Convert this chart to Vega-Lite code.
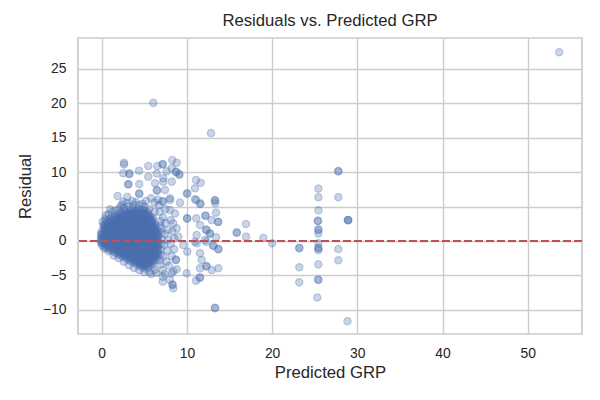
{
"$schema":"https://vega.github.io/schema/vega-lite/v6.json",
"width":504,"height":296,
"autosize":{"type":"none"},
"padding":{"left":78,"top":38,"right":18,"bottom":66},
"background":"white",
"title":{"text":"Residuals vs. Predicted GRP","font":"Liberation Sans","fontSize":16.7,"fontWeight":"normal","color":"#262626","anchor":"middle","frame":"group","offset":8},
"config":{
 "view":{"stroke":"#cccccc","strokeWidth":1.7},
 "axis":{"domain":false,"ticks":false,"tickSize":0,"gridColor":"#cccccc","gridWidth":1.4,"labelFont":"Liberation Sans","labelFontSize":13.9,"labelColor":"#262626","titleFont":"Liberation Sans","titleFontSize":16.7,"titleFontWeight":"normal","titleColor":"#262626","labelPadding":12},
 "axisX":{"titlePadding":5},
 "axisY":{"titlePadding":8}
},
"data":{"values":[
{"pred":0,"resid":-0.6},{"pred":0,"resid":-0.2},{"pred":0,"resid":0.2},{"pred":0,"resid":0.6},{"pred":0,"resid":1},{"pred":0,"resid":1.4},
{"pred":0.3,"resid":-0.8},{"pred":0.3,"resid":-0.4},{"pred":0.3,"resid":0},{"pred":0.3,"resid":0.4},{"pred":0.3,"resid":0.8},{"pred":0.3,"resid":1.2},{"pred":0.3,"resid":1.6},{"pred":0.3,"resid":2},{"pred":0.3,"resid":2.4},
{"pred":0.6,"resid":-1},{"pred":0.6,"resid":-0.6},{"pred":0.6,"resid":-0.2},{"pred":0.6,"resid":0.2},{"pred":0.6,"resid":0.6},{"pred":0.6,"resid":1},{"pred":0.6,"resid":1.4},{"pred":0.6,"resid":1.8},{"pred":0.6,"resid":2.2},{"pred":0.6,"resid":2.6},{"pred":0.6,"resid":3},
{"pred":0.9,"resid":-1.2},{"pred":0.9,"resid":-0.8},{"pred":0.9,"resid":-0.4},{"pred":0.9,"resid":0},{"pred":0.9,"resid":0.4},{"pred":0.9,"resid":0.8},{"pred":0.9,"resid":1.2},{"pred":0.9,"resid":1.6},{"pred":0.9,"resid":2},{"pred":0.9,"resid":2.4},{"pred":0.9,"resid":2.8},{"pred":0.9,"resid":3.2},
{"pred":1.2,"resid":-1.4},{"pred":1.2,"resid":-1},{"pred":1.2,"resid":-0.6},{"pred":1.2,"resid":-0.2},{"pred":1.2,"resid":0.2},{"pred":1.2,"resid":0.6},{"pred":1.2,"resid":1},{"pred":1.2,"resid":1.4},{"pred":1.2,"resid":1.8},{"pred":1.2,"resid":2.2},{"pred":1.2,"resid":2.6},{"pred":1.2,"resid":3},{"pred":1.2,"resid":3.4},
{"pred":1.5,"resid":-1.6},{"pred":1.5,"resid":-1.2},{"pred":1.5,"resid":-0.8},{"pred":1.5,"resid":-0.4},{"pred":1.5,"resid":0},{"pred":1.5,"resid":0.4},{"pred":1.5,"resid":0.8},{"pred":1.5,"resid":1.2},{"pred":1.5,"resid":1.6},{"pred":1.5,"resid":2},{"pred":1.5,"resid":2.4},{"pred":1.5,"resid":2.8},{"pred":1.5,"resid":3.2},{"pred":1.5,"resid":3.6},
{"pred":1.8,"resid":-1.8},{"pred":1.8,"resid":-1.4},{"pred":1.8,"resid":-1},{"pred":1.8,"resid":-0.6},{"pred":1.8,"resid":-0.2},{"pred":1.8,"resid":0.2},{"pred":1.8,"resid":0.6},{"pred":1.8,"resid":1},{"pred":1.8,"resid":1.4},{"pred":1.8,"resid":1.8},{"pred":1.8,"resid":2.2},{"pred":1.8,"resid":2.6},{"pred":1.8,"resid":3},{"pred":1.8,"resid":3.4},{"pred":1.8,"resid":3.8},
{"pred":2.1,"resid":-2},{"pred":2.1,"resid":-1.6},{"pred":2.1,"resid":-1.2},{"pred":2.1,"resid":-0.8},{"pred":2.1,"resid":-0.4},{"pred":2.1,"resid":0},{"pred":2.1,"resid":0.4},{"pred":2.1,"resid":0.8},{"pred":2.1,"resid":1.2},{"pred":2.1,"resid":1.6},{"pred":2.1,"resid":2},{"pred":2.1,"resid":2.4},{"pred":2.1,"resid":2.8},{"pred":2.1,"resid":3.2},{"pred":2.1,"resid":3.6},{"pred":2.1,"resid":4},
{"pred":2.4,"resid":-2.2},{"pred":2.4,"resid":-1.8},{"pred":2.4,"resid":-1.4},{"pred":2.4,"resid":-1},{"pred":2.4,"resid":-0.6},{"pred":2.4,"resid":-0.2},{"pred":2.4,"resid":0.2},{"pred":2.4,"resid":0.6},{"pred":2.4,"resid":1},{"pred":2.4,"resid":1.4},{"pred":2.4,"resid":1.8},{"pred":2.4,"resid":2.2},{"pred":2.4,"resid":2.6},{"pred":2.4,"resid":3},{"pred":2.4,"resid":3.4},{"pred":2.4,"resid":3.8},{"pred":2.4,"resid":4.2},
{"pred":2.7,"resid":-2.4},{"pred":2.7,"resid":-2},{"pred":2.7,"resid":-1.6},{"pred":2.7,"resid":-1.2},{"pred":2.7,"resid":-0.8},{"pred":2.7,"resid":-0.4},{"pred":2.7,"resid":0},{"pred":2.7,"resid":0.4},{"pred":2.7,"resid":0.8},{"pred":2.7,"resid":1.2},{"pred":2.7,"resid":1.6},{"pred":2.7,"resid":2},{"pred":2.7,"resid":2.4},{"pred":2.7,"resid":2.8},{"pred":2.7,"resid":3.2},{"pred":2.7,"resid":3.6},{"pred":2.7,"resid":4},{"pred":2.7,"resid":4.4},
{"pred":3,"resid":-2.6},{"pred":3,"resid":-2.2},{"pred":3,"resid":-1.8},{"pred":3,"resid":-1.4},{"pred":3,"resid":-1},{"pred":3,"resid":-0.6},{"pred":3,"resid":-0.2},{"pred":3,"resid":0.2},{"pred":3,"resid":0.6},{"pred":3,"resid":1},{"pred":3,"resid":1.4},{"pred":3,"resid":1.8},{"pred":3,"resid":2.2},{"pred":3,"resid":2.6},{"pred":3,"resid":3},{"pred":3,"resid":3.4},{"pred":3,"resid":3.8},{"pred":3,"resid":4.2},
{"pred":3.3,"resid":-2.8},{"pred":3.3,"resid":-2.4},{"pred":3.3,"resid":-2},{"pred":3.3,"resid":-1.6},{"pred":3.3,"resid":-1.2},{"pred":3.3,"resid":-0.8},{"pred":3.3,"resid":-0.4},{"pred":3.3,"resid":0},{"pred":3.3,"resid":0.4},{"pred":3.3,"resid":0.8},{"pred":3.3,"resid":1.2},{"pred":3.3,"resid":1.6},{"pred":3.3,"resid":2},{"pred":3.3,"resid":2.4},{"pred":3.3,"resid":2.8},{"pred":3.3,"resid":3.2},{"pred":3.3,"resid":3.6},{"pred":3.3,"resid":4},{"pred":3.3,"resid":4.4},
{"pred":3.6,"resid":-3},{"pred":3.6,"resid":-2.6},{"pred":3.6,"resid":-2.2},{"pred":3.6,"resid":-1.8},{"pred":3.6,"resid":-1.4},{"pred":3.6,"resid":-1},{"pred":3.6,"resid":-0.6},{"pred":3.6,"resid":-0.2},{"pred":3.6,"resid":0.2},{"pred":3.6,"resid":0.6},{"pred":3.6,"resid":1},{"pred":3.6,"resid":1.4},{"pred":3.6,"resid":1.8},{"pred":3.6,"resid":2.2},{"pred":3.6,"resid":2.6},{"pred":3.6,"resid":3},{"pred":3.6,"resid":3.4},{"pred":3.6,"resid":3.8},{"pred":3.6,"resid":4.2},{"pred":3.6,"resid":4.6},
{"pred":3.9,"resid":-3.2},{"pred":3.9,"resid":-2.8},{"pred":3.9,"resid":-2.4},{"pred":3.9,"resid":-2},{"pred":3.9,"resid":-1.6},{"pred":3.9,"resid":-1.2},{"pred":3.9,"resid":-0.8},{"pred":3.9,"resid":-0.4},{"pred":3.9,"resid":0},{"pred":3.9,"resid":0.4},{"pred":3.9,"resid":0.8},{"pred":3.9,"resid":1.2},{"pred":3.9,"resid":1.6},{"pred":3.9,"resid":2},{"pred":3.9,"resid":2.4},{"pred":3.9,"resid":2.8},{"pred":3.9,"resid":3.2},{"pred":3.9,"resid":3.6},{"pred":3.9,"resid":4},{"pred":3.9,"resid":4.4},
{"pred":4.2,"resid":-3.4},{"pred":4.2,"resid":-3},{"pred":4.2,"resid":-2.6},{"pred":4.2,"resid":-2.2},{"pred":4.2,"resid":-1.8},{"pred":4.2,"resid":-1.4},{"pred":4.2,"resid":-1},{"pred":4.2,"resid":-0.6},{"pred":4.2,"resid":-0.2},{"pred":4.2,"resid":0.2},{"pred":4.2,"resid":0.6},{"pred":4.2,"resid":1},{"pred":4.2,"resid":1.4},{"pred":4.2,"resid":1.8},{"pred":4.2,"resid":2.2},{"pred":4.2,"resid":2.6},{"pred":4.2,"resid":3},{"pred":4.2,"resid":3.4},{"pred":4.2,"resid":3.8},{"pred":4.2,"resid":4.2},{"pred":4.2,"resid":4.6},
{"pred":4.5,"resid":-3.6},{"pred":4.5,"resid":-3.2},{"pred":4.5,"resid":-2.8},{"pred":4.5,"resid":-2.4},{"pred":4.5,"resid":-2},{"pred":4.5,"resid":-1.6},{"pred":4.5,"resid":-1.2},{"pred":4.5,"resid":-0.8},{"pred":4.5,"resid":-0.4},{"pred":4.5,"resid":0},{"pred":4.5,"resid":0.4},{"pred":4.5,"resid":0.8},{"pred":4.5,"resid":1.2},{"pred":4.5,"resid":1.6},{"pred":4.5,"resid":2},{"pred":4.5,"resid":2.4},{"pred":4.5,"resid":2.8},{"pred":4.5,"resid":3.2},{"pred":4.5,"resid":3.6},{"pred":4.5,"resid":4},{"pred":4.5,"resid":4.4},
{"pred":4.8,"resid":-3.8},{"pred":4.8,"resid":-3.4},{"pred":4.8,"resid":-3},{"pred":4.8,"resid":-2.6},{"pred":4.8,"resid":-2.2},{"pred":4.8,"resid":-1.8},{"pred":4.8,"resid":-1.4},{"pred":4.8,"resid":-1},{"pred":4.8,"resid":-0.6},{"pred":4.8,"resid":-0.2},{"pred":4.8,"resid":0.2},{"pred":4.8,"resid":0.6},{"pred":4.8,"resid":1},{"pred":4.8,"resid":1.4},{"pred":4.8,"resid":1.8},{"pred":4.8,"resid":2.2},{"pred":4.8,"resid":2.6},{"pred":4.8,"resid":3},{"pred":4.8,"resid":3.4},{"pred":4.8,"resid":3.8},{"pred":4.8,"resid":4.2},{"pred":4.8,"resid":4.6},
{"pred":5.1,"resid":-4},{"pred":5.1,"resid":-3.6},{"pred":5.1,"resid":-3.2},{"pred":5.1,"resid":-2.8},{"pred":5.1,"resid":-2.4},{"pred":5.1,"resid":-2},{"pred":5.1,"resid":-1.6},{"pred":5.1,"resid":-1.2},{"pred":5.1,"resid":-0.8},{"pred":5.1,"resid":-0.4},{"pred":5.1,"resid":0},{"pred":5.1,"resid":0.4},{"pred":5.1,"resid":0.8},{"pred":5.1,"resid":1.2},{"pred":5.1,"resid":1.6},{"pred":5.1,"resid":2},{"pred":5.1,"resid":2.4},{"pred":5.1,"resid":2.8},{"pred":5.1,"resid":3.2},{"pred":5.1,"resid":3.6},{"pred":5.1,"resid":4},{"pred":5.1,"resid":4.4},
{"pred":5.4,"resid":-3.8},{"pred":5.4,"resid":-3.4},{"pred":5.4,"resid":-3},{"pred":5.4,"resid":-2.6},{"pred":5.4,"resid":-2.2},{"pred":5.4,"resid":-1.8},{"pred":5.4,"resid":-1.4},{"pred":5.4,"resid":-1},{"pred":5.4,"resid":-0.6},{"pred":5.4,"resid":-0.2},{"pred":5.4,"resid":0.2},{"pred":5.4,"resid":0.6},{"pred":5.4,"resid":1},{"pred":5.4,"resid":1.4},{"pred":5.4,"resid":1.8},{"pred":5.4,"resid":2.2},{"pred":5.4,"resid":2.6},{"pred":5.4,"resid":3},{"pred":5.4,"resid":3.4},{"pred":5.4,"resid":3.8},{"pred":5.4,"resid":4.2},
{"pred":5.7,"resid":-3.6},{"pred":5.7,"resid":-3.2},{"pred":5.7,"resid":-2.8},{"pred":5.7,"resid":-2.4},{"pred":5.7,"resid":-2},{"pred":5.7,"resid":-1.6},{"pred":5.7,"resid":-1.2},{"pred":5.7,"resid":-0.8},{"pred":5.7,"resid":-0.4},{"pred":5.7,"resid":0},{"pred":5.7,"resid":0.4},{"pred":5.7,"resid":0.8},{"pred":5.7,"resid":1.2},{"pred":5.7,"resid":1.6},{"pred":5.7,"resid":2},{"pred":5.7,"resid":2.4},{"pred":5.7,"resid":2.8},{"pred":5.7,"resid":3.2},{"pred":5.7,"resid":3.6},
{"pred":6,"resid":-3.4},{"pred":6,"resid":-3},{"pred":6,"resid":-2.6},{"pred":6,"resid":-2.2},{"pred":6,"resid":-1.8},{"pred":6,"resid":-1.4},{"pred":6,"resid":-1},{"pred":6,"resid":-0.6},{"pred":6,"resid":-0.2},{"pred":6,"resid":0.2},{"pred":6,"resid":0.6},{"pred":6,"resid":1},{"pred":6,"resid":1.4},{"pred":6,"resid":1.8},{"pred":6,"resid":2.2},{"pred":6,"resid":2.6},{"pred":6,"resid":3},{"pred":6,"resid":3.4},
{"pred":6.3,"resid":-2.8},{"pred":6.3,"resid":-2.4},{"pred":6.3,"resid":-2},{"pred":6.3,"resid":-1.6},{"pred":6.3,"resid":-1.2},{"pred":6.3,"resid":-0.8},{"pred":6.3,"resid":-0.4},{"pred":6.3,"resid":0},{"pred":6.3,"resid":0.4},{"pred":6.3,"resid":0.8},{"pred":6.3,"resid":1.2},{"pred":6.3,"resid":1.6},{"pred":6.3,"resid":2},{"pred":6.3,"resid":2.4},
{"pred":6.6,"resid":-2.2},{"pred":6.6,"resid":-1.8},{"pred":6.6,"resid":-1.4},{"pred":6.6,"resid":-1},{"pred":6.6,"resid":-0.6},{"pred":6.6,"resid":-0.2},{"pred":6.6,"resid":0.2},{"pred":6.6,"resid":0.6},{"pred":6.6,"resid":1},{"pred":6.6,"resid":1.4},
{"pred":0.15,"resid":-0.3},{"pred":0.15,"resid":0.1},{"pred":0.15,"resid":0.5},{"pred":0.15,"resid":0.9},
{"pred":0.45,"resid":-0.5},{"pred":0.45,"resid":-0.1},{"pred":0.45,"resid":0.3},{"pred":0.45,"resid":0.7},{"pred":0.45,"resid":1.1},{"pred":0.45,"resid":1.5},{"pred":0.45,"resid":1.9},
{"pred":0.75,"resid":-0.7},{"pred":0.75,"resid":-0.3},{"pred":0.75,"resid":0.1},{"pred":0.75,"resid":0.5},{"pred":0.75,"resid":0.9},{"pred":0.75,"resid":1.3},{"pred":0.75,"resid":1.7},{"pred":0.75,"resid":2.1},{"pred":0.75,"resid":2.5},
{"pred":1.05,"resid":-0.9},{"pred":1.05,"resid":-0.5},{"pred":1.05,"resid":-0.1},{"pred":1.05,"resid":0.3},{"pred":1.05,"resid":0.7},{"pred":1.05,"resid":1.1},{"pred":1.05,"resid":1.5},{"pred":1.05,"resid":1.9},{"pred":1.05,"resid":2.3},{"pred":1.05,"resid":2.7},
{"pred":1.35,"resid":-1.1},{"pred":1.35,"resid":-0.7},{"pred":1.35,"resid":-0.3},{"pred":1.35,"resid":0.1},{"pred":1.35,"resid":0.5},{"pred":1.35,"resid":0.9},{"pred":1.35,"resid":1.3},{"pred":1.35,"resid":1.7},{"pred":1.35,"resid":2.1},{"pred":1.35,"resid":2.5},{"pred":1.35,"resid":2.9},
{"pred":1.65,"resid":-1.3},{"pred":1.65,"resid":-0.9},{"pred":1.65,"resid":-0.5},{"pred":1.65,"resid":-0.1},{"pred":1.65,"resid":0.3},{"pred":1.65,"resid":0.7},{"pred":1.65,"resid":1.1},{"pred":1.65,"resid":1.5},{"pred":1.65,"resid":1.9},{"pred":1.65,"resid":2.3},{"pred":1.65,"resid":2.7},{"pred":1.65,"resid":3.1},
{"pred":1.95,"resid":-1.5},{"pred":1.95,"resid":-1.1},{"pred":1.95,"resid":-0.7},{"pred":1.95,"resid":-0.3},{"pred":1.95,"resid":0.1},{"pred":1.95,"resid":0.5},{"pred":1.95,"resid":0.9},{"pred":1.95,"resid":1.3},{"pred":1.95,"resid":1.7},{"pred":1.95,"resid":2.1},{"pred":1.95,"resid":2.5},{"pred":1.95,"resid":2.9},{"pred":1.95,"resid":3.3},
{"pred":2.25,"resid":-1.7},{"pred":2.25,"resid":-1.3},{"pred":2.25,"resid":-0.9},{"pred":2.25,"resid":-0.5},{"pred":2.25,"resid":-0.1},{"pred":2.25,"resid":0.3},{"pred":2.25,"resid":0.7},{"pred":2.25,"resid":1.1},{"pred":2.25,"resid":1.5},{"pred":2.25,"resid":1.9},{"pred":2.25,"resid":2.3},{"pred":2.25,"resid":2.7},{"pred":2.25,"resid":3.1},{"pred":2.25,"resid":3.5},
{"pred":2.55,"resid":-1.9},{"pred":2.55,"resid":-1.5},{"pred":2.55,"resid":-1.1},{"pred":2.55,"resid":-0.7},{"pred":2.55,"resid":-0.3},{"pred":2.55,"resid":0.1},{"pred":2.55,"resid":0.5},{"pred":2.55,"resid":0.9},{"pred":2.55,"resid":1.3},{"pred":2.55,"resid":1.7},{"pred":2.55,"resid":2.1},{"pred":2.55,"resid":2.5},{"pred":2.55,"resid":2.9},{"pred":2.55,"resid":3.3},{"pred":2.55,"resid":3.7},
{"pred":2.85,"resid":-2.1},{"pred":2.85,"resid":-1.7},{"pred":2.85,"resid":-1.3},{"pred":2.85,"resid":-0.9},{"pred":2.85,"resid":-0.5},{"pred":2.85,"resid":-0.1},{"pred":2.85,"resid":0.3},{"pred":2.85,"resid":0.7},{"pred":2.85,"resid":1.1},{"pred":2.85,"resid":1.5},{"pred":2.85,"resid":1.9},{"pred":2.85,"resid":2.3},{"pred":2.85,"resid":2.7},{"pred":2.85,"resid":3.1},{"pred":2.85,"resid":3.5},{"pred":2.85,"resid":3.9},
{"pred":3.15,"resid":-2.3},{"pred":3.15,"resid":-1.9},{"pred":3.15,"resid":-1.5},{"pred":3.15,"resid":-1.1},{"pred":3.15,"resid":-0.7},{"pred":3.15,"resid":-0.3},{"pred":3.15,"resid":0.1},{"pred":3.15,"resid":0.5},{"pred":3.15,"resid":0.9},{"pred":3.15,"resid":1.3},{"pred":3.15,"resid":1.7},{"pred":3.15,"resid":2.1},{"pred":3.15,"resid":2.5},{"pred":3.15,"resid":2.9},{"pred":3.15,"resid":3.3},{"pred":3.15,"resid":3.7},
{"pred":3.45,"resid":-2.5},{"pred":3.45,"resid":-2.1},{"pred":3.45,"resid":-1.7},{"pred":3.45,"resid":-1.3},{"pred":3.45,"resid":-0.9},{"pred":3.45,"resid":-0.5},{"pred":3.45,"resid":-0.1},{"pred":3.45,"resid":0.3},{"pred":3.45,"resid":0.7},{"pred":3.45,"resid":1.1},{"pred":3.45,"resid":1.5},{"pred":3.45,"resid":1.9},{"pred":3.45,"resid":2.3},{"pred":3.45,"resid":2.7},{"pred":3.45,"resid":3.1},{"pred":3.45,"resid":3.5},{"pred":3.45,"resid":3.9},
{"pred":3.75,"resid":-2.7},{"pred":3.75,"resid":-2.3},{"pred":3.75,"resid":-1.9},{"pred":3.75,"resid":-1.5},{"pred":3.75,"resid":-1.1},{"pred":3.75,"resid":-0.7},{"pred":3.75,"resid":-0.3},{"pred":3.75,"resid":0.1},{"pred":3.75,"resid":0.5},{"pred":3.75,"resid":0.9},{"pred":3.75,"resid":1.3},{"pred":3.75,"resid":1.7},{"pred":3.75,"resid":2.1},{"pred":3.75,"resid":2.5},{"pred":3.75,"resid":2.9},{"pred":3.75,"resid":3.3},{"pred":3.75,"resid":3.7},{"pred":3.75,"resid":4.1},
{"pred":4.05,"resid":-2.9},{"pred":4.05,"resid":-2.5},{"pred":4.05,"resid":-2.1},{"pred":4.05,"resid":-1.7},{"pred":4.05,"resid":-1.3},{"pred":4.05,"resid":-0.9},{"pred":4.05,"resid":-0.5},{"pred":4.05,"resid":-0.1},{"pred":4.05,"resid":0.3},{"pred":4.05,"resid":0.7},{"pred":4.05,"resid":1.1},{"pred":4.05,"resid":1.5},{"pred":4.05,"resid":1.9},{"pred":4.05,"resid":2.3},{"pred":4.05,"resid":2.7},{"pred":4.05,"resid":3.1},{"pred":4.05,"resid":3.5},{"pred":4.05,"resid":3.9},
{"pred":4.35,"resid":-3.1},{"pred":4.35,"resid":-2.7},{"pred":4.35,"resid":-2.3},{"pred":4.35,"resid":-1.9},{"pred":4.35,"resid":-1.5},{"pred":4.35,"resid":-1.1},{"pred":4.35,"resid":-0.7},{"pred":4.35,"resid":-0.3},{"pred":4.35,"resid":0.1},{"pred":4.35,"resid":0.5},{"pred":4.35,"resid":0.9},{"pred":4.35,"resid":1.3},{"pred":4.35,"resid":1.7},{"pred":4.35,"resid":2.1},{"pred":4.35,"resid":2.5},{"pred":4.35,"resid":2.9},{"pred":4.35,"resid":3.3},{"pred":4.35,"resid":3.7},{"pred":4.35,"resid":4.1},
{"pred":4.65,"resid":-3.3},{"pred":4.65,"resid":-2.9},{"pred":4.65,"resid":-2.5},{"pred":4.65,"resid":-2.1},{"pred":4.65,"resid":-1.7},{"pred":4.65,"resid":-1.3},{"pred":4.65,"resid":-0.9},{"pred":4.65,"resid":-0.5},{"pred":4.65,"resid":-0.1},{"pred":4.65,"resid":0.3},{"pred":4.65,"resid":0.7},{"pred":4.65,"resid":1.1},{"pred":4.65,"resid":1.5},{"pred":4.65,"resid":1.9},{"pred":4.65,"resid":2.3},{"pred":4.65,"resid":2.7},{"pred":4.65,"resid":3.1},{"pred":4.65,"resid":3.5},{"pred":4.65,"resid":3.9},
{"pred":4.95,"resid":-3.5},{"pred":4.95,"resid":-3.1},{"pred":4.95,"resid":-2.7},{"pred":4.95,"resid":-2.3},{"pred":4.95,"resid":-1.9},{"pred":4.95,"resid":-1.5},{"pred":4.95,"resid":-1.1},{"pred":4.95,"resid":-0.7},{"pred":4.95,"resid":-0.3},{"pred":4.95,"resid":0.1},{"pred":4.95,"resid":0.5},{"pred":4.95,"resid":0.9},{"pred":4.95,"resid":1.3},{"pred":4.95,"resid":1.7},{"pred":4.95,"resid":2.1},{"pred":4.95,"resid":2.5},{"pred":4.95,"resid":2.9},{"pred":4.95,"resid":3.3},{"pred":4.95,"resid":3.7},{"pred":4.95,"resid":4.1},
{"pred":5.25,"resid":-3.3},{"pred":5.25,"resid":-2.9},{"pred":5.25,"resid":-2.5},{"pred":5.25,"resid":-2.1},{"pred":5.25,"resid":-1.7},{"pred":5.25,"resid":-1.3},{"pred":5.25,"resid":-0.9},{"pred":5.25,"resid":-0.5},{"pred":5.25,"resid":-0.1},{"pred":5.25,"resid":0.3},{"pred":5.25,"resid":0.7},{"pred":5.25,"resid":1.1},{"pred":5.25,"resid":1.5},{"pred":5.25,"resid":1.9},{"pred":5.25,"resid":2.3},{"pred":5.25,"resid":2.7},{"pred":5.25,"resid":3.1},{"pred":5.25,"resid":3.5},{"pred":5.25,"resid":3.9},
{"pred":5.55,"resid":-3.1},{"pred":5.55,"resid":-2.7},{"pred":5.55,"resid":-2.3},{"pred":5.55,"resid":-1.9},{"pred":5.55,"resid":-1.5},{"pred":5.55,"resid":-1.1},{"pred":5.55,"resid":-0.7},{"pred":5.55,"resid":-0.3},{"pred":5.55,"resid":0.1},{"pred":5.55,"resid":0.5},{"pred":5.55,"resid":0.9},{"pred":5.55,"resid":1.3},{"pred":5.55,"resid":1.7},{"pred":5.55,"resid":2.1},{"pred":5.55,"resid":2.5},{"pred":5.55,"resid":2.9},{"pred":5.55,"resid":3.3},
{"pred":5.85,"resid":-2.9},{"pred":5.85,"resid":-2.5},{"pred":5.85,"resid":-2.1},{"pred":5.85,"resid":-1.7},{"pred":5.85,"resid":-1.3},{"pred":5.85,"resid":-0.9},{"pred":5.85,"resid":-0.5},{"pred":5.85,"resid":-0.1},{"pred":5.85,"resid":0.3},{"pred":5.85,"resid":0.7},{"pred":5.85,"resid":1.1},{"pred":5.85,"resid":1.5},{"pred":5.85,"resid":1.9},{"pred":5.85,"resid":2.3},{"pred":5.85,"resid":2.7},{"pred":5.85,"resid":3.1},
{"pred":6.15,"resid":-2.3},{"pred":6.15,"resid":-1.9},{"pred":6.15,"resid":-1.5},{"pred":6.15,"resid":-1.1},{"pred":6.15,"resid":-0.7},{"pred":6.15,"resid":-0.3},{"pred":6.15,"resid":0.1},{"pred":6.15,"resid":0.5},{"pred":6.15,"resid":0.9},{"pred":6.15,"resid":1.3},{"pred":6.15,"resid":1.7},{"pred":6.15,"resid":2.1},
{"pred":6.45,"resid":-1.7},{"pred":6.45,"resid":-1.3},{"pred":6.45,"resid":-0.9},{"pred":6.45,"resid":-0.5},{"pred":6.45,"resid":-0.1},{"pred":6.45,"resid":0.3},{"pred":6.45,"resid":0.7},{"pred":6.45,"resid":1.1},
{"pred":0.2,"resid":2.2},{"pred":0.1,"resid":2.8},{"pred":0.4,"resid":3.2},{"pred":0.5,"resid":3.7},{"pred":0.8,"resid":3.9},{"pred":1.2,"resid":4.2},{"pred":1.6,"resid":4.4},{"pred":2,"resid":4.6},{"pred":1,"resid":4.6},
{"pred":2.6,"resid":4.8},{"pred":3.2,"resid":5},{"pred":3.8,"resid":5.2},{"pred":4.4,"resid":5.2},{"pred":5,"resid":5},{"pred":5.6,"resid":4.6},{"pred":4,"resid":5.6},{"pred":3,"resid":5.5},{"pred":2.4,"resid":5.3},{"pred":6.2,"resid":4.2},
{"pred":6.9,"resid":2.2},{"pred":7,"resid":1.2},{"pred":7,"resid":-0.4},{"pred":6.9,"resid":-2},
{"pred":6.2,"resid":-4.2},{"pred":5.6,"resid":-4.5},{"pred":5,"resid":-4.5},{"pred":4.4,"resid":-4.2},{"pred":3.8,"resid":-3.9},{"pred":3.2,"resid":-3.5},{"pred":2.6,"resid":-3},{"pred":2,"resid":-2.5},{"pred":1.4,"resid":-2.1},{"pred":0.8,"resid":-1.5},{"pred":0.3,"resid":-1.1},{"pred":5.8,"resid":-4.8},{"pred":6.4,"resid":-4.6},
{"pred":-0.1,"resid":0.4},{"pred":-0.1,"resid":1},{"pred":-0.1,"resid":-0.2},
{"pred":6.8,"resid":4.2},{"pred":7.2,"resid":3.4},{"pred":7.5,"resid":2.6},{"pred":7,"resid":1.8},{"pred":7.4,"resid":1},{"pred":7.8,"resid":0.2},{"pred":7.3,"resid":-0.6},{"pred":7.7,"resid":-1.4},{"pred":7.2,"resid":-2.2},{"pred":7.6,"resid":-3},{"pred":6.9,"resid":-3.4},{"pred":8.1,"resid":3},{"pred":8.3,"resid":1.4},{"pred":8.1,"resid":-0.4},{"pred":8.5,"resid":-1.2},{"pred":8.2,"resid":-2.2},{"pred":7.9,"resid":-3.6},{"pred":6.9,"resid":2.9},{"pred":7.1,"resid":0.2},{"pred":6.9,"resid":-1.2},{"pred":7.5,"resid":4.6},{"pred":8.5,"resid":0.4},{"pred":7.8,"resid":1.6},{"pred":6.8,"resid":-2.8},{"pred":7.4,"resid":-4.8},{"pred":6.7,"resid":5.2},{"pred":6.2,"resid":5.6},{"pred":5.8,"resid":6.2},{"pred":5.2,"resid":5.8},{"pred":4.8,"resid":5.4},{"pred":3.6,"resid":5.8},{"pred":3,"resid":6.4},{"pred":2.2,"resid":5},{"pred":6.6,"resid":6},
{"pred":2.62,"resid":11.36},{"pred":2.62,"resid":11.1},{"pred":2.54,"resid":9.83},{"pred":3.24,"resid":9.83},{"pred":3.24,"resid":9.7},{"pred":4.38,"resid":10.2},{"pred":5.47,"resid":10.89},{"pred":6.53,"resid":10.89},{"pred":7.16,"resid":11.18},{"pred":7.16,"resid":11.1},{"pred":8.29,"resid":11.76},{"pred":8.8,"resid":11.36},{"pred":8.22,"resid":10.55},{"pred":8.72,"resid":10.06},{"pred":8.72,"resid":10},{"pred":9.11,"resid":9.72},{"pred":9.11,"resid":9.6},{"pred":5.47,"resid":9.33},{"pred":3.12,"resid":8.27},{"pred":3.12,"resid":8.2},{"pred":4.41,"resid":8.27},{"pred":6.26,"resid":8.37},{"pred":7.23,"resid":8.61},{"pred":8.22,"resid":8.61},{"pred":7.43,"resid":7.4},{"pred":4.41,"resid":6.92},{"pred":4.41,"resid":6.8},{"pred":1.88,"resid":6.53},{"pred":2.54,"resid":5.7},{"pred":7.16,"resid":5.81},{"pred":7.2,"resid":5.7},{"pred":8.02,"resid":5.95},{"pred":9.19,"resid":5.56},{"pred":6.46,"resid":9.8},{"pred":7.63,"resid":10.1},{"pred":7.23,"resid":9.1},{"pred":6.46,"resid":7.4},{"pred":6.5,"resid":7.3},{"pred":8,"resid":6.2},{"pred":8.6,"resid":4},{"pred":8,"resid":4.5},{"pred":8.4,"resid":2.56},{"pred":8.8,"resid":1.83},{"pred":9,"resid":0.63},{"pred":9.58,"resid":-0.58},
{"pred":6.06,"resid":20.05},
{"pred":10.05,"resid":6.92},{"pred":10,"resid":6.85},{"pred":11.07,"resid":8.85},{"pred":11.62,"resid":8.46},{"pred":10.95,"resid":7.65},{"pred":10.95,"resid":6.05},{"pred":11.54,"resid":5.37},{"pred":11.6,"resid":5.45},{"pred":13.3,"resid":5.95},{"pred":13.3,"resid":5.85},{"pred":13.33,"resid":5.47},{"pred":10.05,"resid":3.29},{"pred":10,"resid":3.25},{"pred":12.21,"resid":3.63},{"pred":12.15,"resid":3.7},{"pred":13.42,"resid":4.11},{"pred":13.69,"resid":2.8},{"pred":13.65,"resid":2.75},{"pred":13.42,"resid":0.54},{"pred":12.29,"resid":1.6},{"pred":12.25,"resid":1.65},{"pred":12.12,"resid":0.15},{"pred":13.1,"resid":-0.73},{"pred":13.1,"resid":-0.65},{"pred":13.69,"resid":-1.2},{"pred":13.69,"resid":-1.15},{"pred":10.05,"resid":-1.55},{"pred":11.15,"resid":-0.33},{"pred":11.54,"resid":-1.79},{"pred":12.29,"resid":-3.63},{"pred":12.3,"resid":-3.7},{"pred":13.69,"resid":-3.96},{"pred":11.54,"resid":-3.96},{"pred":12.91,"resid":-4.21},{"pred":9.98,"resid":-4.69},{"pred":11.54,"resid":-5.27},{"pred":11.5,"resid":-5.35},{"pred":11.07,"resid":-5.76},{"pred":8.72,"resid":-2.76},{"pred":8.7,"resid":-2.7},{"pred":8.8,"resid":-4.11},{"pred":8.22,"resid":-4.69},{"pred":7.16,"resid":-4.21},{"pred":7.16,"resid":-5.18},{"pred":8.02,"resid":-5.66},{"pred":7.16,"resid":-5.91},{"pred":8.33,"resid":-6.39},{"pred":8.3,"resid":-6.3},{"pred":8.4,"resid":-6.87},{"pred":11.1,"resid":5.95},{"pred":12.9,"resid":3.05},{"pred":11.1,"resid":3.3},{"pred":11.54,"resid":2.32},{"pred":12.7,"resid":1.11},{"pred":12.7,"resid":1.05},{"pred":11.14,"resid":0.87},{"pred":10.95,"resid":-0.1},{"pred":12.3,"resid":-0.1},{"pred":11.74,"resid":-2.76},{"pred":12.83,"resid":15.65},{"pred":13.3,"resid":-9.77},{"pred":13.3,"resid":-9.7},{"pred":8.4,"resid":-4.4},
{"pred":15.85,"resid":1.2},{"pred":15.85,"resid":1.25},{"pred":16.94,"resid":2.47},{"pred":16.94,"resid":0.63},{"pred":18.97,"resid":0.45},{"pred":20.02,"resid":-0.34},
{"pred":23.19,"resid":-1},{"pred":23.19,"resid":-1.05},{"pred":23.19,"resid":-3.82},{"pred":23.19,"resid":-6},
{"pred":25.43,"resid":7.6},{"pred":25.43,"resid":6.34},{"pred":25.43,"resid":4.45},{"pred":25.35,"resid":2.9},{"pred":25.4,"resid":2.95},{"pred":25.43,"resid":1.6},{"pred":25.43,"resid":1.7},{"pred":25.43,"resid":1.1},{"pred":25.43,"resid":-0.34},{"pred":25.43,"resid":-1},{"pred":25.43,"resid":-1.05},{"pred":25.43,"resid":-1.35},{"pred":25.43,"resid":-3.39},{"pred":25.43,"resid":-5.66},{"pred":25.4,"resid":-5.6},{"pred":25.3,"resid":-8.2},
{"pred":27.77,"resid":10.16},{"pred":27.77,"resid":10.1},{"pred":27.77,"resid":6.34},{"pred":27.77,"resid":-1.16},{"pred":27.77,"resid":-2.8},
{"pred":28.9,"resid":3},{"pred":28.9,"resid":3.05},{"pred":28.95,"resid":3},{"pred":28.85,"resid":-11.66},
{"pred":53.7,"resid":27.4}
]},
"layer":[
 {"mark":{"type":"circle","size":55,"color":"#4c72b0","fillOpacity":0.3,"stroke":"#4c72b0","strokeOpacity":0.3,"strokeWidth":1.2,"opacity":1},
  "encoding":{
   "x":{"field":"pred","type":"quantitative","scale":{"domain":[-2.78,56.37],"nice":false,"zero":false},"axis":{"values":[0,10,20,30,40,50],"title":"Predicted GRP"}},
   "y":{"field":"resid","type":"quantitative","scale":{"domain":[-13.5,29.46],"nice":false,"zero":false},"axis":{"values":[-10,-5,0,5,10,15,20,25],"title":"Residual"}}
  }},
 {"mark":{"type":"rule","color":"#c44e52","strokeWidth":2.1,"strokeDash":[7.7,3.3]},
  "encoding":{"y":{"datum":0,"type":"quantitative"}}}
]
}
